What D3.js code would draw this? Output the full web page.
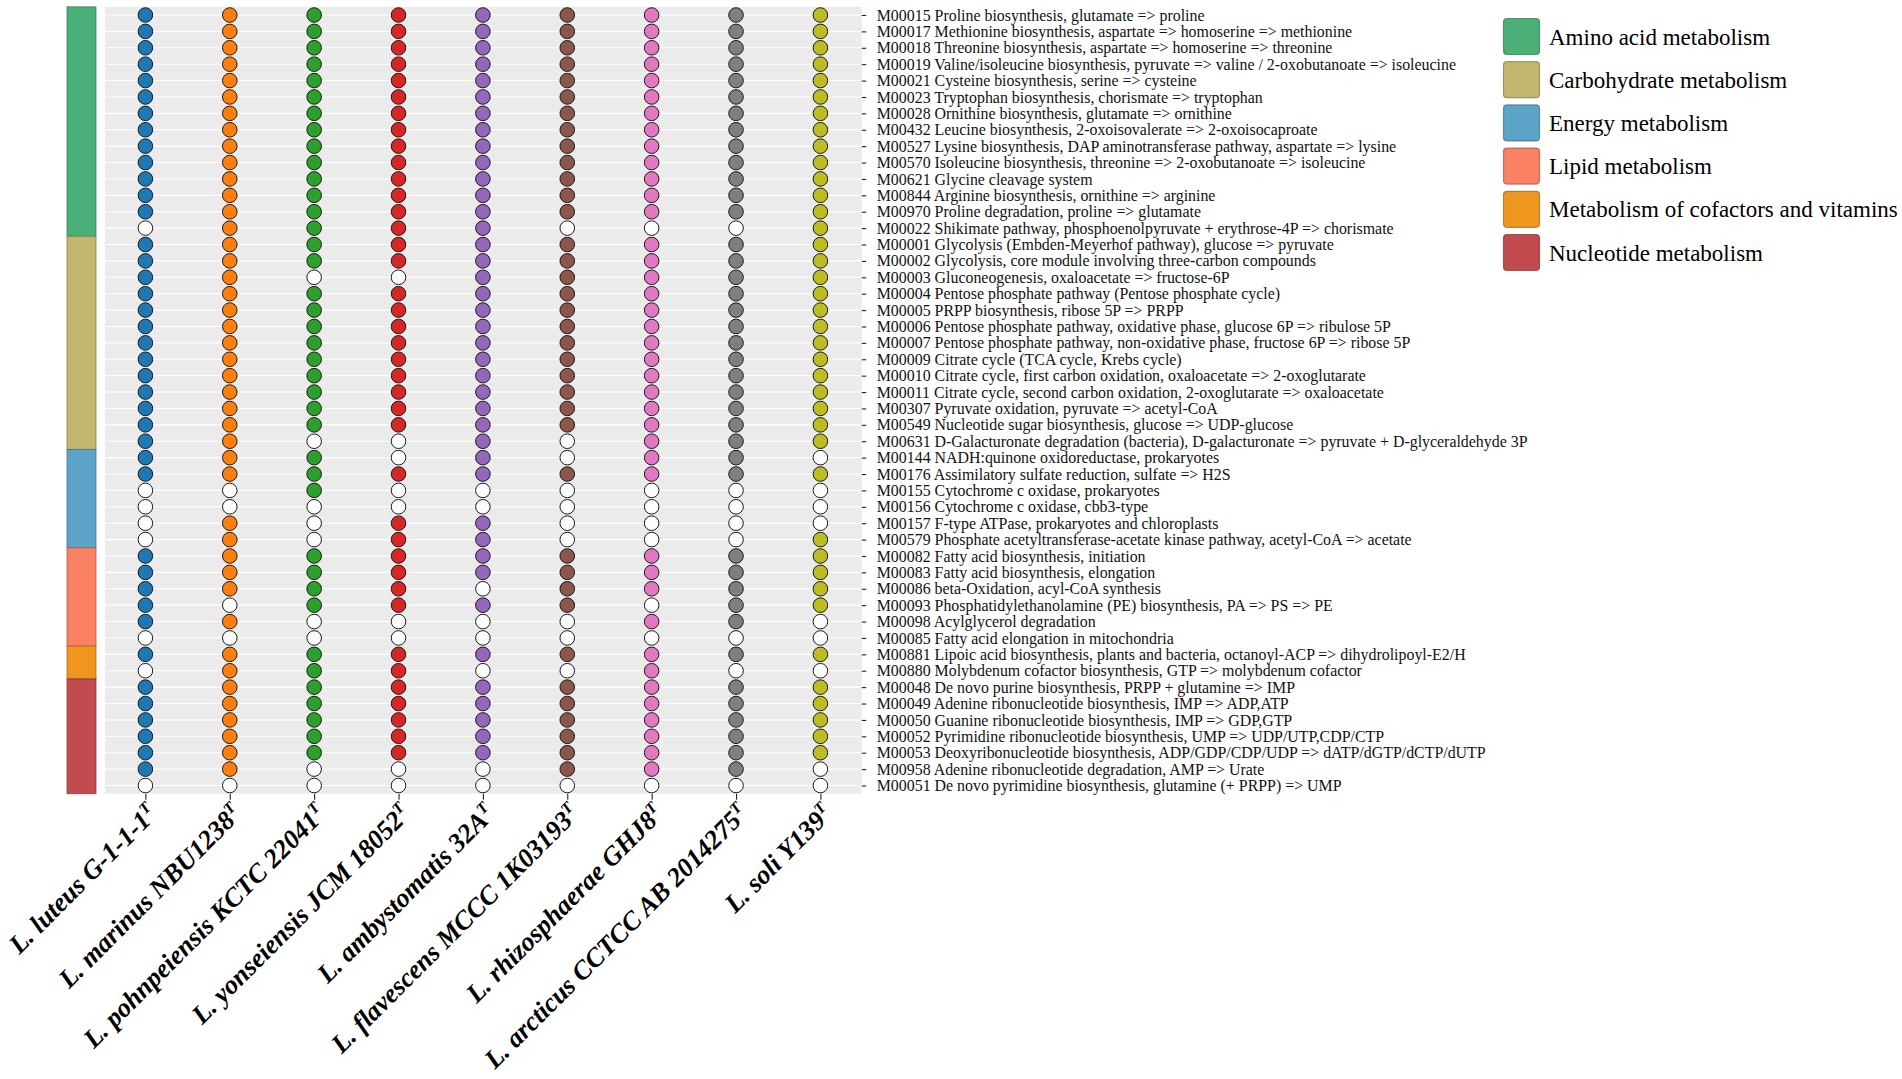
<!DOCTYPE html>
<html>
<head>
<meta charset="utf-8">
<script src="https://cdn.jsdelivr.net/npm/d3@7"></script>
<style>
  html, body { margin: 0; padding: 0; background: #fff; }
  svg { display: block; }
</style>
</head>
<body>
<script>
// ---------------- DATA ----------------
const modules = [
  "M00015 Proline biosynthesis, glutamate => proline",
  "M00017 Methionine biosynthesis, aspartate => homoserine => methionine",
  "M00018 Threonine biosynthesis, aspartate => homoserine => threonine",
  "M00019 Valine/isoleucine biosynthesis, pyruvate => valine / 2-oxobutanoate => isoleucine",
  "M00021 Cysteine biosynthesis, serine => cysteine",
  "M00023 Tryptophan biosynthesis, chorismate => tryptophan",
  "M00028 Ornithine biosynthesis, glutamate => ornithine",
  "M00432 Leucine biosynthesis, 2-oxoisovalerate => 2-oxoisocaproate",
  "M00527 Lysine biosynthesis, DAP aminotransferase pathway, aspartate => lysine",
  "M00570 Isoleucine biosynthesis, threonine => 2-oxobutanoate => isoleucine",
  "M00621 Glycine cleavage system",
  "M00844 Arginine biosynthesis, ornithine => arginine",
  "M00970 Proline degradation, proline => glutamate",
  "M00022 Shikimate pathway, phosphoenolpyruvate + erythrose-4P => chorismate",
  "M00001 Glycolysis (Embden-Meyerhof pathway), glucose => pyruvate",
  "M00002 Glycolysis, core module involving three-carbon compounds",
  "M00003 Gluconeogenesis, oxaloacetate => fructose-6P",
  "M00004 Pentose phosphate pathway (Pentose phosphate cycle)",
  "M00005 PRPP biosynthesis, ribose 5P => PRPP",
  "M00006 Pentose phosphate pathway, oxidative phase, glucose 6P => ribulose 5P",
  "M00007 Pentose phosphate pathway, non-oxidative phase, fructose 6P => ribose 5P",
  "M00009 Citrate cycle (TCA cycle, Krebs cycle)",
  "M00010 Citrate cycle, first carbon oxidation, oxaloacetate => 2-oxoglutarate",
  "M00011 Citrate cycle, second carbon oxidation, 2-oxoglutarate => oxaloacetate",
  "M00307 Pyruvate oxidation, pyruvate => acetyl-CoA",
  "M00549 Nucleotide sugar biosynthesis, glucose => UDP-glucose",
  "M00631 D-Galacturonate degradation (bacteria), D-galacturonate => pyruvate + D-glyceraldehyde 3P",
  "M00144 NADH:quinone oxidoreductase, prokaryotes",
  "M00176 Assimilatory sulfate reduction, sulfate => H2S",
  "M00155 Cytochrome c oxidase, prokaryotes",
  "M00156 Cytochrome c oxidase, cbb3-type",
  "M00157 F-type ATPase, prokaryotes and chloroplasts",
  "M00579 Phosphate acetyltransferase-acetate kinase pathway, acetyl-CoA => acetate",
  "M00082 Fatty acid biosynthesis, initiation",
  "M00083 Fatty acid biosynthesis, elongation",
  "M00086 beta-Oxidation, acyl-CoA synthesis",
  "M00093 Phosphatidylethanolamine (PE) biosynthesis, PA => PS => PE",
  "M00098 Acylglycerol degradation",
  "M00085 Fatty acid elongation in mitochondria",
  "M00881 Lipoic acid biosynthesis, plants and bacteria, octanoyl-ACP => dihydrolipoyl-E2/H",
  "M00880 Molybdenum cofactor biosynthesis, GTP => molybdenum cofactor",
  "M00048 De novo purine biosynthesis, PRPP + glutamine => IMP",
  "M00049 Adenine ribonucleotide biosynthesis, IMP => ADP,ATP",
  "M00050 Guanine ribonucleotide biosynthesis, IMP => GDP,GTP",
  "M00052 Pyrimidine ribonucleotide biosynthesis, UMP => UDP/UTP,CDP/CTP",
  "M00053 Deoxyribonucleotide biosynthesis, ADP/GDP/CDP/UDP => dATP/dGTP/dCTP/dUTP",
  "M00958 Adenine ribonucleotide degradation, AMP => Urate",
  "M00051 De novo pyrimidine biosynthesis, glutamine (+ PRPP) => UMP"
];

// presence (1) / absence (0) per module, one digit per strain (same order as strains)
const presence = [
  "111111111","111111111","111111111","111111111","111111111","111111111","111111111",
  "111111111","111111111","111111111","111111111","111111111","111111111","011110001",
  "111111111","111111111","110011111","111111111","111111111","111111111","111111111",
  "111111111","111111111","111111111","111111111","111111111","110010111",
  "111010110","111111111","001000000","000000000","010110000","010110001",
  "111111111","111111111","111101111","101111011","110000110","000000000",
  "111111111","011100100",
  "111111111","111111111","111111111","111111111","111111111","110001110","000000000"
];

const strains = [
  "L. luteus G-1-1-1", "L. marinus NBU1238", "L. pohnpeiensis KCTC 22041",
  "L. yonseiensis JCM 18052", "L. ambystomatis 32A", "L. flavescens MCCC 1K03193",
  "L. rhizosphaerae GHJ8", "L. arcticus CCTCC AB 2014275", "L. soli Y139"
];
const strainColors = ["#1F77B4","#FF7F0E","#2CA02C","#D62728","#9467BD","#8C564B","#E377C2","#7F7F7F","#BCBD22"];

const categories = ["Amino acid metabolism","Carbohydrate metabolism","Energy metabolism",
  "Lipid metabolism","Metabolism of cofactors and vitamins","Nucleotide metabolism"];
const categoryCounts = [14, 13, 6, 6, 2, 7];
const categoryColors = ["#4BAF78","#C3B770","#5CA4C8","#FA8163","#EF961F","#C24B4F"];

// ---------------- LAYOUT ----------------
const W = 1902, H = 1079;
const svg = d3.select("body").append("svg").attr("width", W).attr("height", H)
  .style("font-family", "'Liberation Serif', 'Times New Roman', serif");
svg.append("rect").attr("width", W).attr("height", H).attr("fill", "#fff");

const x = d3.scalePoint().domain(strains).range([145.4, 820.4]);
const y = d3.scalePoint().domain(modules).range([15, 785.5]);
const xs = x.step(), ys = y.step();
const panel = { left: 145.4 - xs * 0.48, right: 820.4 + xs * 0.49, top: 15 - ys * 0.5, bottom: 785.5 + ys * 0.5 };

// panel background
svg.append("rect")
  .attr("x", panel.left).attr("y", panel.top)
  .attr("width", panel.right - panel.left).attr("height", panel.bottom - panel.top)
  .attr("fill", "#EBEBEB");

// grid lines
const grid = svg.append("g").attr("stroke", "#fff").attr("stroke-width", 1.1);
grid.selectAll("line.h").data(modules).join("line")
  .attr("x1", panel.left).attr("x2", panel.right)
  .attr("y1", d => y(d)).attr("y2", d => y(d));
grid.selectAll("line.v").data(strains).join("line")
  .attr("y1", panel.top).attr("y2", panel.bottom)
  .attr("x1", d => x(d)).attr("x2", d => x(d));

// category side bar (stacked by row counts, same row scale)
const rowScale = d3.scaleLinear().domain([0, modules.length]).range([panel.top, panel.bottom]);
const cum = d3.cumsum(categoryCounts);
const barData = categories.map((c, i) => ({ c, start: i === 0 ? 0 : cum[i - 1], end: cum[i], color: categoryColors[i] }));
svg.append("g").selectAll("rect").data(barData).join("rect")
  .attr("x", 67).attr("width", 29)
  .attr("y", d => rowScale(d.start)).attr("height", d => rowScale(d.end) - rowScale(d.start))
  .attr("fill", d => d.color)
  .attr("stroke", d => d3.color(d.color).darker(1.2)).attr("stroke-opacity", 0.7).attr("stroke-width", 1);

// dots
const cells = [];
modules.forEach((m, i) => strains.forEach((s, j) => cells.push({ m, s, j, v: +presence[i][j] })));
svg.append("g").selectAll("circle").data(cells).join("circle")
  .attr("cx", d => x(d.s)).attr("cy", d => y(d.m)).attr("r", 7.3)
  .attr("fill", d => d.v ? strainColors[d.j] : "#fff")
  .attr("fill-opacity", d => d.v ? 1 : 0.82)
  .attr("stroke", "#1a1a1a").attr("stroke-width", 1);

// right y axis
const yAxis = svg.append("g").attr("transform", `translate(${panel.right},0)`)
  .call(d3.axisRight(y).tickSize(4.5).tickPadding(10.5));
yAxis.select(".domain").remove();
yAxis.selectAll(".tick line").attr("stroke", "#222").attr("stroke-width", 1.1);
yAxis.selectAll(".tick text")
  .attr("font-family", "'Liberation Serif', serif").attr("font-size", 15.9).attr("fill", "#111");

// bottom x axis
const xAxis = svg.append("g").attr("transform", `translate(0,${panel.bottom})`)
  .call(d3.axisBottom(x).tickSize(6).tickFormat(""));
xAxis.select(".domain").remove();
xAxis.selectAll(".tick line").attr("stroke", "#222").attr("stroke-width", 1.1);

const xl = svg.append("g");
strains.forEach(s => {
  const ax = x(s) + 2, ay = panel.bottom + 10;
  const t = xl.append("text")
    .attr("transform", `translate(${ax},${ay}) rotate(-45)`)
    .attr("text-anchor", "end")
    .attr("dy", "0.62em")
    .attr("font-family", "'Liberation Serif', serif")
    .attr("font-weight", "bold").attr("font-style", "italic")
    .attr("font-size", 26.5).attr("fill", "#000");
  t.append("tspan").text(s);
  t.append("tspan").attr("font-size", 16).attr("baseline-shift", "60%").text("T");
});

// legend
const lg = svg.append("g").attr("transform", "translate(1503.5,18.5)");
const items = lg.selectAll("g").data(categories).join("g")
  .attr("transform", (d, i) => `translate(0,${i * 43.2})`);
items.append("rect").attr("width", 36).attr("height", 36).attr("rx", 3.5)
  .attr("fill", (d, i) => categoryColors[i])
  .attr("stroke", (d, i) => d3.color(categoryColors[i]).darker(1.2)).attr("stroke-opacity", 0.7).attr("stroke-width", 1.2);
items.append("text").attr("x", 45.5).attr("y", 18).attr("dy", "0.35em")
  .attr("font-family", "'Liberation Serif', serif").attr("font-size", 23).attr("fill", "#000")
  .text(d => d);
</script>
</body>
</html>
